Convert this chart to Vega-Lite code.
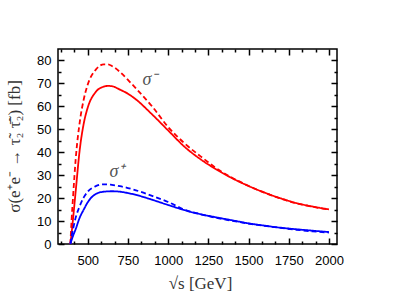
{
  "$schema": "https://vega.github.io/schema/vega-lite/v6.json",
  "autosize": "none",
  "width": 279,
  "height": 195,
  "padding": {"left": 58, "top": 49, "right": 77, "bottom": 58},
  "background": "white",
  "config": {
    "view": {"stroke": "black", "strokeWidth": 1.5},
    "axis": {"domain": false, "grid": false, "zindex": 1, "labelFont": "Liberation Sans", "labelFontSize": 13, "labelColor": "black", "titleFont": "Liberation Serif", "titleFontWeight": "normal", "titleFontSize": 17, "titleColor": "#333"}
  },
  "datasets": {
    "curves": [
      {"x": 392, "y": 0, "sign": "minus", "kind": "solid"},
      {"x": 400, "y": 5, "sign": "minus", "kind": "solid"},
      {"x": 410, "y": 12, "sign": "minus", "kind": "solid"},
      {"x": 425, "y": 23, "sign": "minus", "kind": "solid"},
      {"x": 450, "y": 41, "sign": "minus", "kind": "solid"},
      {"x": 475, "y": 52.5, "sign": "minus", "kind": "solid"},
      {"x": 500, "y": 59.5, "sign": "minus", "kind": "solid"},
      {"x": 550, "y": 66.3, "sign": "minus", "kind": "solid"},
      {"x": 600, "y": 68.6, "sign": "minus", "kind": "solid"},
      {"x": 625, "y": 68.9, "sign": "minus", "kind": "solid"},
      {"x": 650, "y": 68.8, "sign": "minus", "kind": "solid"},
      {"x": 700, "y": 67.3, "sign": "minus", "kind": "solid"},
      {"x": 750, "y": 65.5, "sign": "minus", "kind": "solid"},
      {"x": 800, "y": 63.0, "sign": "minus", "kind": "solid"},
      {"x": 900, "y": 56.5, "sign": "minus", "kind": "solid"},
      {"x": 1000, "y": 49.5, "sign": "minus", "kind": "solid"},
      {"x": 1100, "y": 42.5, "sign": "minus", "kind": "solid"},
      {"x": 1200, "y": 37.0, "sign": "minus", "kind": "solid"},
      {"x": 1300, "y": 32.5, "sign": "minus", "kind": "solid"},
      {"x": 1400, "y": 28.6, "sign": "minus", "kind": "solid"},
      {"x": 1500, "y": 25.3, "sign": "minus", "kind": "solid"},
      {"x": 1600, "y": 22.4, "sign": "minus", "kind": "solid"},
      {"x": 1700, "y": 19.9, "sign": "minus", "kind": "solid"},
      {"x": 1800, "y": 17.8, "sign": "minus", "kind": "solid"},
      {"x": 1900, "y": 16.3, "sign": "minus", "kind": "solid"},
      {"x": 2000, "y": 15.1, "sign": "minus", "kind": "solid"},

      {"x": 392, "y": 0, "sign": "minus", "kind": "dashed"},
      {"x": 400, "y": 11, "sign": "minus", "kind": "dashed"},
      {"x": 410, "y": 22, "sign": "minus", "kind": "dashed"},
      {"x": 425, "y": 37, "sign": "minus", "kind": "dashed"},
      {"x": 450, "y": 53, "sign": "minus", "kind": "dashed"},
      {"x": 475, "y": 63, "sign": "minus", "kind": "dashed"},
      {"x": 500, "y": 69.5, "sign": "minus", "kind": "dashed"},
      {"x": 550, "y": 76, "sign": "minus", "kind": "dashed"},
      {"x": 600, "y": 78.3, "sign": "minus", "kind": "dashed"},
      {"x": 625, "y": 78.3, "sign": "minus", "kind": "dashed"},
      {"x": 650, "y": 77.6, "sign": "minus", "kind": "dashed"},
      {"x": 700, "y": 75, "sign": "minus", "kind": "dashed"},
      {"x": 750, "y": 71.5, "sign": "minus", "kind": "dashed"},
      {"x": 800, "y": 67.8, "sign": "minus", "kind": "dashed"},
      {"x": 900, "y": 60, "sign": "minus", "kind": "dashed"},
      {"x": 1000, "y": 51, "sign": "minus", "kind": "dashed"},
      {"x": 1100, "y": 44.0, "sign": "minus", "kind": "dashed"},
      {"x": 1200, "y": 38.3, "sign": "minus", "kind": "dashed"},
      {"x": 1300, "y": 33.0, "sign": "minus", "kind": "dashed"},
      {"x": 1400, "y": 28.8, "sign": "minus", "kind": "dashed"},
      {"x": 1500, "y": 25.3, "sign": "minus", "kind": "dashed"},
      {"x": 1600, "y": 22.3, "sign": "minus", "kind": "dashed"},
      {"x": 1700, "y": 19.8, "sign": "minus", "kind": "dashed"},
      {"x": 1800, "y": 17.7, "sign": "minus", "kind": "dashed"},
      {"x": 1900, "y": 16.2, "sign": "minus", "kind": "dashed"},
      {"x": 2000, "y": 15.0, "sign": "minus", "kind": "dashed"},

      {"x": 392, "y": 0, "sign": "plus", "kind": "solid"},
      {"x": 400, "y": 1.8, "sign": "plus", "kind": "solid"},
      {"x": 410, "y": 3.8, "sign": "plus", "kind": "solid"},
      {"x": 425, "y": 6.5, "sign": "plus", "kind": "solid"},
      {"x": 450, "y": 11.5, "sign": "plus", "kind": "solid"},
      {"x": 475, "y": 15, "sign": "plus", "kind": "solid"},
      {"x": 500, "y": 18.2, "sign": "plus", "kind": "solid"},
      {"x": 550, "y": 21.8, "sign": "plus", "kind": "solid"},
      {"x": 600, "y": 22.8, "sign": "plus", "kind": "solid"},
      {"x": 650, "y": 23.0, "sign": "plus", "kind": "solid"},
      {"x": 700, "y": 22.8, "sign": "plus", "kind": "solid"},
      {"x": 750, "y": 22.2, "sign": "plus", "kind": "solid"},
      {"x": 800, "y": 21.4, "sign": "plus", "kind": "solid"},
      {"x": 900, "y": 19.3, "sign": "plus", "kind": "solid"},
      {"x": 1000, "y": 17.0, "sign": "plus", "kind": "solid"},
      {"x": 1100, "y": 14.8, "sign": "plus", "kind": "solid"},
      {"x": 1200, "y": 13.0, "sign": "plus", "kind": "solid"},
      {"x": 1300, "y": 11.6, "sign": "plus", "kind": "solid"},
      {"x": 1400, "y": 10.3, "sign": "plus", "kind": "solid"},
      {"x": 1500, "y": 9.0, "sign": "plus", "kind": "solid"},
      {"x": 1600, "y": 8.0, "sign": "plus", "kind": "solid"},
      {"x": 1700, "y": 7.1, "sign": "plus", "kind": "solid"},
      {"x": 1800, "y": 6.4, "sign": "plus", "kind": "solid"},
      {"x": 1900, "y": 5.8, "sign": "plus", "kind": "solid"},
      {"x": 2000, "y": 5.2, "sign": "plus", "kind": "solid"},

      {"x": 392, "y": 0, "sign": "plus", "kind": "dashed"},
      {"x": 400, "y": 3.5, "sign": "plus", "kind": "dashed"},
      {"x": 410, "y": 7, "sign": "plus", "kind": "dashed"},
      {"x": 425, "y": 11.5, "sign": "plus", "kind": "dashed"},
      {"x": 450, "y": 16.5, "sign": "plus", "kind": "dashed"},
      {"x": 475, "y": 20.3, "sign": "plus", "kind": "dashed"},
      {"x": 500, "y": 22.8, "sign": "plus", "kind": "dashed"},
      {"x": 550, "y": 25.2, "sign": "plus", "kind": "dashed"},
      {"x": 600, "y": 26.0, "sign": "plus", "kind": "dashed"},
      {"x": 625, "y": 26.0, "sign": "plus", "kind": "dashed"},
      {"x": 650, "y": 25.8, "sign": "plus", "kind": "dashed"},
      {"x": 700, "y": 25.2, "sign": "plus", "kind": "dashed"},
      {"x": 750, "y": 24.4, "sign": "plus", "kind": "dashed"},
      {"x": 800, "y": 23.4, "sign": "plus", "kind": "dashed"},
      {"x": 900, "y": 21.0, "sign": "plus", "kind": "dashed"},
      {"x": 1000, "y": 18.3, "sign": "plus", "kind": "dashed"},
      {"x": 1100, "y": 15.0, "sign": "plus", "kind": "dashed"},
      {"x": 1200, "y": 13.0, "sign": "plus", "kind": "dashed"},
      {"x": 1300, "y": 11.4, "sign": "plus", "kind": "dashed"},
      {"x": 1400, "y": 10.1, "sign": "plus", "kind": "dashed"},
      {"x": 1500, "y": 8.9, "sign": "plus", "kind": "dashed"},
      {"x": 1600, "y": 7.9, "sign": "plus", "kind": "dashed"},
      {"x": 1700, "y": 7.0, "sign": "plus", "kind": "dashed"},
      {"x": 1800, "y": 6.2, "sign": "plus", "kind": "dashed"},
      {"x": 1900, "y": 5.5, "sign": "plus", "kind": "dashed"},
      {"x": 2000, "y": 5.0, "sign": "plus", "kind": "dashed"}
    ],
    "labels": [
      {"x": 887, "y": 71.3, "label": "σ⁻"},
      {"x": 682, "y": 31.3, "label": "σ⁺"}
    ]
  },
  "resolve": {"axis": {"x": "independent", "y": "independent"}},
  "layer": [
    {
      "data": {"name": "curves"},
      "mark": {"type": "line", "strokeWidth": 1.8, "interpolate": "monotone", "clip": true},
      "encoding": {
        "x": {"field": "x", "type": "quantitative",
          "scale": {"domain": [315, 2050], "nice": false, "zero": false},
          "axis": {"orient": "bottom", "values": [500, 750, 1000, 1250, 1500, 1750, 2000],
            "format": "d", "tickSize": 6, "offset": -6, "tickColor": "#000000", "tickWidth": 1.5, "labelPadding": 10,
            "title": "√s [GeV]", "titleBaseline": "middle", "titleY": 45, "titleX": 142, "titleAnchor": "middle"}},
        "y": {"field": "y", "type": "quantitative",
          "scale": {"domain": [0, 85], "nice": false},
          "axis": {"orient": "left", "values": [0, 10, 20, 30, 40, 50, 60, 70, 80],
            "tickSize": 6, "offset": -6, "tickColor": "#000000", "tickWidth": 1.5, "labelPadding": 7,
            "title": "σ(e⁺e⁻ → τ̃₂ τ̃̄₂) [fb]", "titleBaseline": "middle", "titleAngle": -90, "titleX": -50, "titleY": 97, "titleAlign": "center"}},
        "color": {"field": "sign", "type": "nominal", "scale": {"domain": ["minus", "plus"], "range": ["#ff0000", "#0000ff"]}, "legend": null},
        "strokeDash": {"field": "kind", "type": "nominal", "scale": {"domain": ["solid", "dashed"], "range": [[1, 0], [5, 3]]}, "legend": null}
      }
    },
    {
      "data": {"name": "labels"},
      "mark": {"type": "text", "font": "Liberation Serif", "fontStyle": "italic", "fontSize": 18, "color": "#555"},
      "encoding": {
        "x": {"field": "x", "type": "quantitative",
          "axis": {"orient": "top", "values": [500, 750, 1000, 1250, 1500, 1750, 2000],
            "labels": false, "title": null, "tickSize": 6, "offset": -6, "tickColor": "#000000", "tickWidth": 1.5}},
        "y": {"field": "y", "type": "quantitative",
          "axis": {"orient": "right", "values": [0, 10, 20, 30, 40, 50, 60, 70, 80],
            "labels": false, "title": null, "tickSize": 6, "offset": -6, "tickColor": "#000000", "tickWidth": 1.5}},
        "text": {"field": "label"}
      }
    },
    {
      "data": {"name": "labels"},
      "mark": {"type": "text", "opacity": 0},
      "encoding": {
        "x": {"field": "x", "type": "quantitative",
          "axis": {"orient": "bottom", "values": [333.333,416.667,583.333,666.667,833.333,916.667,1083.333,1166.667,1333.333,1416.667,1583.333,1666.667,1833.333,1916.667],
            "labels": false, "title": null, "tickSize": 3, "offset": -3, "tickColor": "#000000", "tickWidth": 1.5}},
        "y": {"field": "y", "type": "quantitative",
          "axis": {"orient": "left", "values": [5, 15, 25, 35, 45, 55, 65, 75],
            "labels": false, "title": null, "tickSize": 3, "offset": -3, "tickColor": "#000000", "tickWidth": 1.5}},
        "text": {"field": "label"}
      }
    },
    {
      "data": {"name": "labels"},
      "mark": {"type": "text", "opacity": 0},
      "encoding": {
        "x": {"field": "x", "type": "quantitative",
          "axis": {"orient": "top", "values": [333.333,416.667,583.333,666.667,833.333,916.667,1083.333,1166.667,1333.333,1416.667,1583.333,1666.667,1833.333,1916.667],
            "labels": false, "title": null, "tickSize": 3, "offset": -3, "tickColor": "#000000", "tickWidth": 1.5}},
        "y": {"field": "y", "type": "quantitative",
          "axis": {"orient": "right", "values": [5, 15, 25, 35, 45, 55, 65, 75],
            "labels": false, "title": null, "tickSize": 3, "offset": -3, "tickColor": "#000000", "tickWidth": 1.5}},
        "text": {"field": "label"}
      }
    }
  ]
}
